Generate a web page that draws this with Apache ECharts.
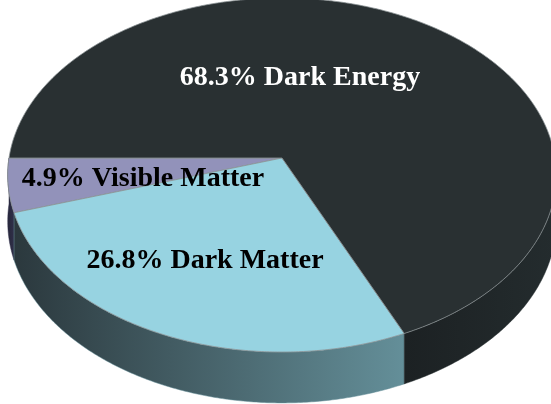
<!DOCTYPE html>
<html>
<head>
<meta charset="utf-8">
<script src="https://cdn.jsdelivr.net/npm/echarts@6/dist/echarts.min.js"></script>
<style>
  html, body { margin: 0; padding: 0; background: #ffffff; }
  #chart { width: 551px; height: 404px; }
</style>
</head>
<body>
<div id="chart"></div>
<script>
// Composition of the universe
const categories = ['Visible Matter', 'Dark Matter', 'Dark Energy'];
const shares = [4.9, 26.8, 68.3];

// Per-slice styling
const topColors = ['#9292ba', '#97d3e1', '#293032'];
const sideColors = [
  ['#26263a', '#30304a'],
  ['#2b383d', '#648f99'],
  ['#1c2123', '#242c2e']
];
const labelColors = ['#000000', '#000000', '#ffffff'];
const labelCenters = [[143, 179], [205, 261], [300, 78]];

// Perspective view of a tilted disc
const view = { x0: 282, y0: 158, a: 273, b: 175.4, k: 0.096, h: 46 };
const START = 180;

function project(phiDeg, depth) {
  const p = phiDeg * Math.PI / 180;
  const s = Math.sin(p), c = Math.cos(p);
  const w = 1 + view.k * s;
  return [view.x0 + view.a * c / w, view.y0 - view.b * s / w + depth * view.h / w];
}

function arc(a0, a1, depth) {
  const pts = [];
  const n = Math.max(2, Math.ceil(Math.abs(a1 - a0) / 0.5));
  for (let j = 0; j <= n; j++) pts.push(project(a0 + (a1 - a0) * j / n, depth));
  return pts;
}

const total = shares.reduce((s, v) => s + v, 0);

function renderItem(params, api) {
  const i = params.dataIndex;
  let before = 0;
  for (let j = 0; j < i; j++) before += shares[j];
  const a0 = START + 360 * before / total;
  const a1 = a0 + 360 * api.value(0) / total;
  const children = [];

  // Outer wall, only the half facing the viewer
  const s0 = Math.max(a0, 180), s1 = Math.min(a1, 360);
  if (s1 > s0) {
    const topEdge = arc(s0, s1, 0);
    const bottomEdge = arc(s0, s1, 1).reverse();
    children.push({
      type: 'polygon',
      z2: 1,
      shape: { points: topEdge.concat(bottomEdge) },
      style: {
        fill: new echarts.graphic.LinearGradient(0, 0, 1, 0, [
          { offset: 0, color: sideColors[i][0] },
          { offset: 1, color: sideColors[i][1] }
        ]),
        stroke: sideColors[i][1],
        lineWidth: 0.5
      }
    });
  }

  // Top face
  children.push({
    type: 'polygon',
    z2: 10,
    shape: { points: [[view.x0, view.y0]].concat(arc(a0, a1, 0)) },
    style: { fill: topColors[i], stroke: '#8a9294', lineWidth: 0.8 }
  });

  // Label
  children.push({
    type: 'text',
    z2: 20,
    x: labelCenters[i][0],
    y: labelCenters[i][1],
    style: {
      text: shares[i] + '% ' + categories[i],
      fill: labelColors[i],
      font: 'bold 28px "Liberation Serif", "Times New Roman", serif',
      align: 'center',
      verticalAlign: 'middle'
    }
  });

  return { type: 'group', children: children };
}

const chart = echarts.init(document.getElementById('chart'), null, { renderer: 'canvas' });
chart.setOption({
  backgroundColor: '#ffffff',
  animation: false,
  series: [{
    type: 'custom',
    coordinateSystem: 'none',
    renderItem: renderItem,
    data: shares.map((v, idx) => ({ name: categories[idx], value: [v] }))
  }]
});
</script>
</body>
</html>
